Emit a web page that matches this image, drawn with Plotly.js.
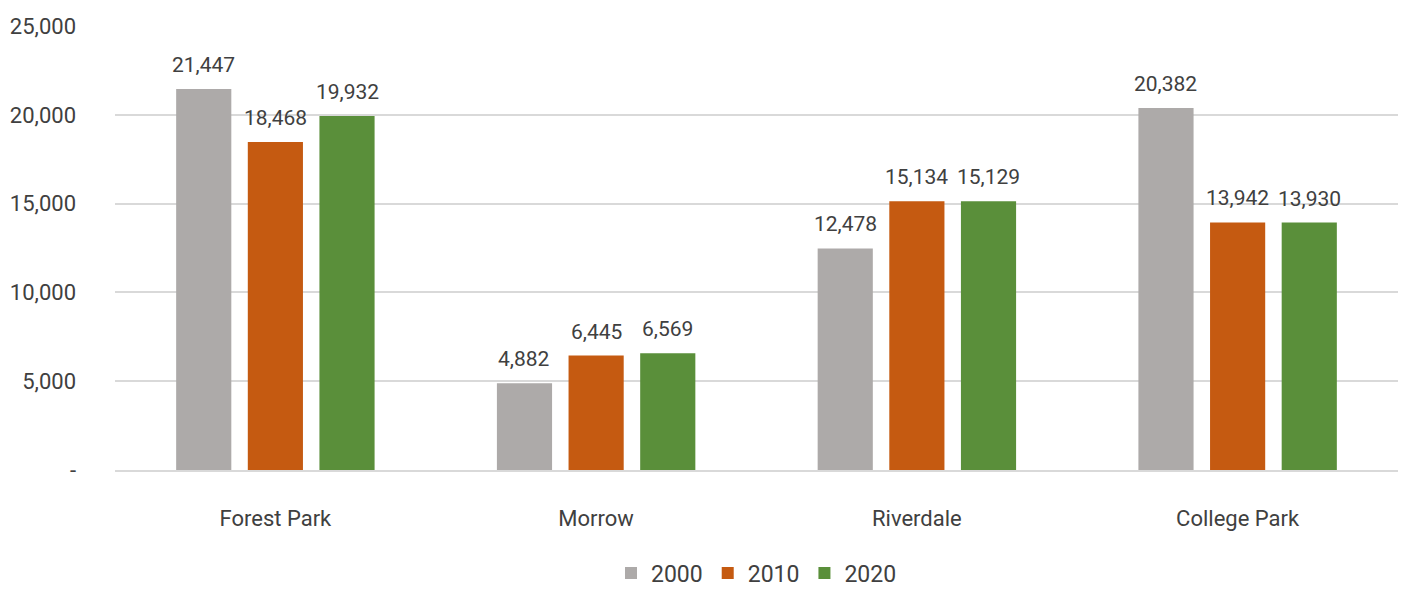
<!DOCTYPE html>
<html>
<head>
<meta charset="utf-8">
<script src="https://cdn.plot.ly/plotly-3.0.1.min.js"></script>
<style>html,body{margin:0;padding:0;background:#fff;}#chart{width:1408px;height:592px;}</style>
</head>
<body>
<div id="chart"></div>
<script>
const categories = ["Forest Park", "Morrow", "Riverdale", "College Park"];
const years = ["2000", "2010", "2020"];
const values2000 = [21447, 4882, 12478, 20382];
const values2010 = [18468, 6445, 15134, 13942];
const values2020 = [19932, 6569, 15129, 13930];
const tickVals = [0, 5000, 10000, 15000, 20000, 25000];
const tickText = ["-", "5,000", "10,000", "15,000", "20,000", "25,000"];
const colors = ["#ADAAA9", "#C55A11", "#5A8F3A"];

const FONT = "Roboto, 'Liberation Sans', sans-serif";
const series = [values2000, values2010, values2020];
const fmt = v => v.toLocaleString("en-US");

const traces = series.map((vals, i) => ({
  type: "bar",
  name: years[i],
  x: categories.map((c, k) => k),
  y: vals,
  marker: {color: colors[i]},
  hoverinfo: "skip"
}));

const bargap = 0.33;
const slot = (1 - bargap) / 3;
const annotations = [];
series.forEach((vals, i) => {
  vals.forEach((v, k) => {
    annotations.push({
      x: k + (i - 1) * slot, y: v, xref: "x", yref: "y",
      text: fmt(v), showarrow: false, yanchor: "bottom", yshift: 10,
      font: {family: FONT, size: 21, color: "#404040"}
    });
  });
});

const layout = {
  width: 1408, height: 592,
  margin: {l: 115, r: 10, t: 26, b: 122, autoexpand: false},
  paper_bgcolor: "#fff", plot_bgcolor: "#fff",
  barmode: "group", bargap: bargap, bargroupgap: 0.23,
  showlegend: true,
  legend: {orientation: "h", x: 0.5, xanchor: "center", y: -0.232, yanchor: "middle",
           font: {family: FONT, size: 23, color: "#404040"}, itemwidth: 30},
  xaxis: {
    tickvals: categories.map((c, k) => k), ticktext: categories,
    range: [-0.5, 3.5], showgrid: false, zeroline: false,
    showline: true, linecolor: "#D9D9D9", linewidth: 2,
    ticks: "", ticklabelstandoff: 28,
    tickfont: {family: FONT, size: 22, color: "#404040"}
  },
  yaxis: {
    range: [0, 25000], tickvals: tickVals, ticktext: tickText,
    showgrid: true, gridcolor: "#D9D9D9", gridwidth: 2,
    zeroline: false, showline: false, ticks: "", ticklabelstandoff: 38,
    tickfont: {family: FONT, size: 22, color: "#404040"}
  },
  annotations: annotations
};

Plotly.newPlot("chart", traces, layout, {displayModeBar: false, staticPlot: true});
</script>
</body>
</html>
